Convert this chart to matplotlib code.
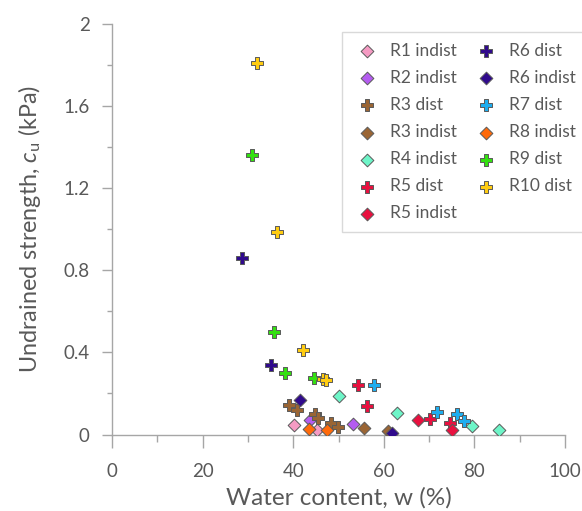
import matplotlib
matplotlib.use("Agg")
import matplotlib.pyplot as plt
from matplotlib.ticker import MultipleLocator

plt.rcParams['font.family'] = ['Lato', 'DejaVu Sans']
plt.rcParams['mathtext.fontset'] = 'custom'
plt.rcParams['mathtext.rm'] = 'Lato'
plt.rcParams['mathtext.it'] = 'Lato:italic'

# ---- data: water content w (%), undrained strength cu (kPa) ----
labels = ["R1 indist", "R2 indist", "R3 dist", "R3 indist", "R4 indist",
          "R5 dist", "R5 indist", "R6 dist", "R6 indist", "R7 dist",
          "R8 indist", "R9 dist", "R10 dist"]
markers = ["D", "D", "P", "D", "D", "P", "D", "P", "D", "P", "D", "P", "P"]
colors = ["#F59BC3", "#B45CF0", "#9A6534", "#9A6534", "#6EF5C8",
          "#E8103F", "#E8103F", "#300A8C", "#300A8C", "#1EAEF0",
          "#FF6A0A", "#33E010", "#FFCC11"]

w_R1i = [40.2, 45.3]
c_R1i = [0.044, 0.024]
w_R2i = [43.6, 53.3]
c_R2i = [0.072, 0.052]
w_R3d = [39.0, 40.9, 44.8, 45.5, 48.3, 49.9]
c_R3d = [0.146, 0.120, 0.098, 0.080, 0.055, 0.036]
w_R3i = [55.6, 60.9]
c_R3i = [0.031, 0.018]
w_R4i = [50.1, 63.0, 79.4, 85.5]
c_R4i = [0.190, 0.106, 0.039, 0.020]
w_R5d = [54.2, 56.2, 70.3, 74.6]
c_R5d = [0.242, 0.137, 0.077, 0.055]
w_R5i = [67.6, 75.1]
c_R5i = [0.072, 0.023]
w_R6d = [28.8, 35.1]
c_R6d = [0.860, 0.337]
w_R6i = [41.6, 61.8]
c_R6i = [0.170, 0.005]
w_R7d = [57.8, 71.8, 76.2, 77.7]
c_R7d = [0.242, 0.112, 0.098, 0.068]
w_R8i = [43.5, 47.5]
c_R8i = [0.028, 0.020]
w_R9d = [30.8, 35.7, 38.2, 44.5]
c_R9d = [1.360, 0.500, 0.300, 0.277]
w_R10d = [32.1, 36.5, 42.1, 46.5, 47.2]
c_R10d = [1.810, 0.985, 0.410, 0.272, 0.265]

ws = [w_R1i, w_R2i, w_R3d, w_R3i, w_R4i, w_R5d, w_R5i, w_R6d, w_R6i,
      w_R7d, w_R8i, w_R9d, w_R10d]
cs = [c_R1i, c_R2i, c_R3d, c_R3i, c_R4i, c_R5d, c_R5i, c_R6d, c_R6i,
      c_R7d, c_R8i, c_R9d, c_R10d]

x_ticks = [0, 20, 40, 60, 80, 100]
y_ticks = [0, 0.4, 0.8, 1.2, 1.6, 2.0]
y_ticklabels = ["0", "0.4", "0.8", "1.2", "1.6", "2"]

fig = plt.figure(figsize=(5.82, 5.11), dpi=100)
ax = fig.add_axes([112.0 / 582, 1 - 434.5 / 511, 453.0 / 582, 410.5 / 511])

for lab, mk, col, w, c in zip(labels, markers, colors, ws, cs):
    size = 80 if mk == "P" else 42
    ax.scatter(w, c, marker=mk, s=size, facecolor=col, edgecolor="#5a5a5a",
               linewidth=0.7, label=lab, zorder=3)

ax.set_xlim(0, 100)
ax.set_ylim(0, 2)
ax.set_xticks(x_ticks)
ax.set_yticks(y_ticks)
ax.set_yticklabels(y_ticklabels)
ax.xaxis.set_minor_locator(MultipleLocator(10))
ax.yaxis.set_minor_locator(MultipleLocator(0.2))

for s in ["top", "right"]:
    ax.spines[s].set_visible(False)
for s in ["left", "bottom"]:
    ax.spines[s].set_color("#a6a6a6")
    ax.spines[s].set_linewidth(1.0)

tc = "#595959"
ax.tick_params(axis="x", which="major", direction="out", length=9.5, width=1,
               color="#a6a6a6", labelsize=13.5, labelcolor=tc, pad=11)
ax.tick_params(axis="x", which="minor", direction="out", length=5, width=1,
               color="#a6a6a6")
ax.tick_params(axis="y", which="major", direction="out", length=7, width=1,
               color="#a6a6a6", labelsize=13.5, labelcolor=tc, pad=9)
ax.tick_params(axis="y", which="minor", direction="out", length=3.6, width=1,
               color="#a6a6a6")

ax.set_xlabel("Water content, w (%)", fontsize=17.5, color=tc, labelpad=5)
ax.set_ylabel(r"Undrained strength, $c_\mathrm{u}$ (kPa)", fontsize=16.8,
              color=tc, labelpad=15)

leg = ax.legend(ncol=2, loc="upper left", bbox_to_anchor=(342 / 582, 1 - 32 / 511),
                bbox_transform=fig.transFigure, borderaxespad=0, fontsize=12.5,
                frameon=True, fancybox=False, edgecolor="#d0d0d0",
                labelspacing=0.64, columnspacing=0.87, handletextpad=0.54,
                handlelength=1.6, borderpad=0.62, scatterpoints=1)
for t in leg.get_texts():
    t.set_color(tc)
leg.get_frame().set_linewidth(1.0)

fig.savefig("out.png", dpi=100)
